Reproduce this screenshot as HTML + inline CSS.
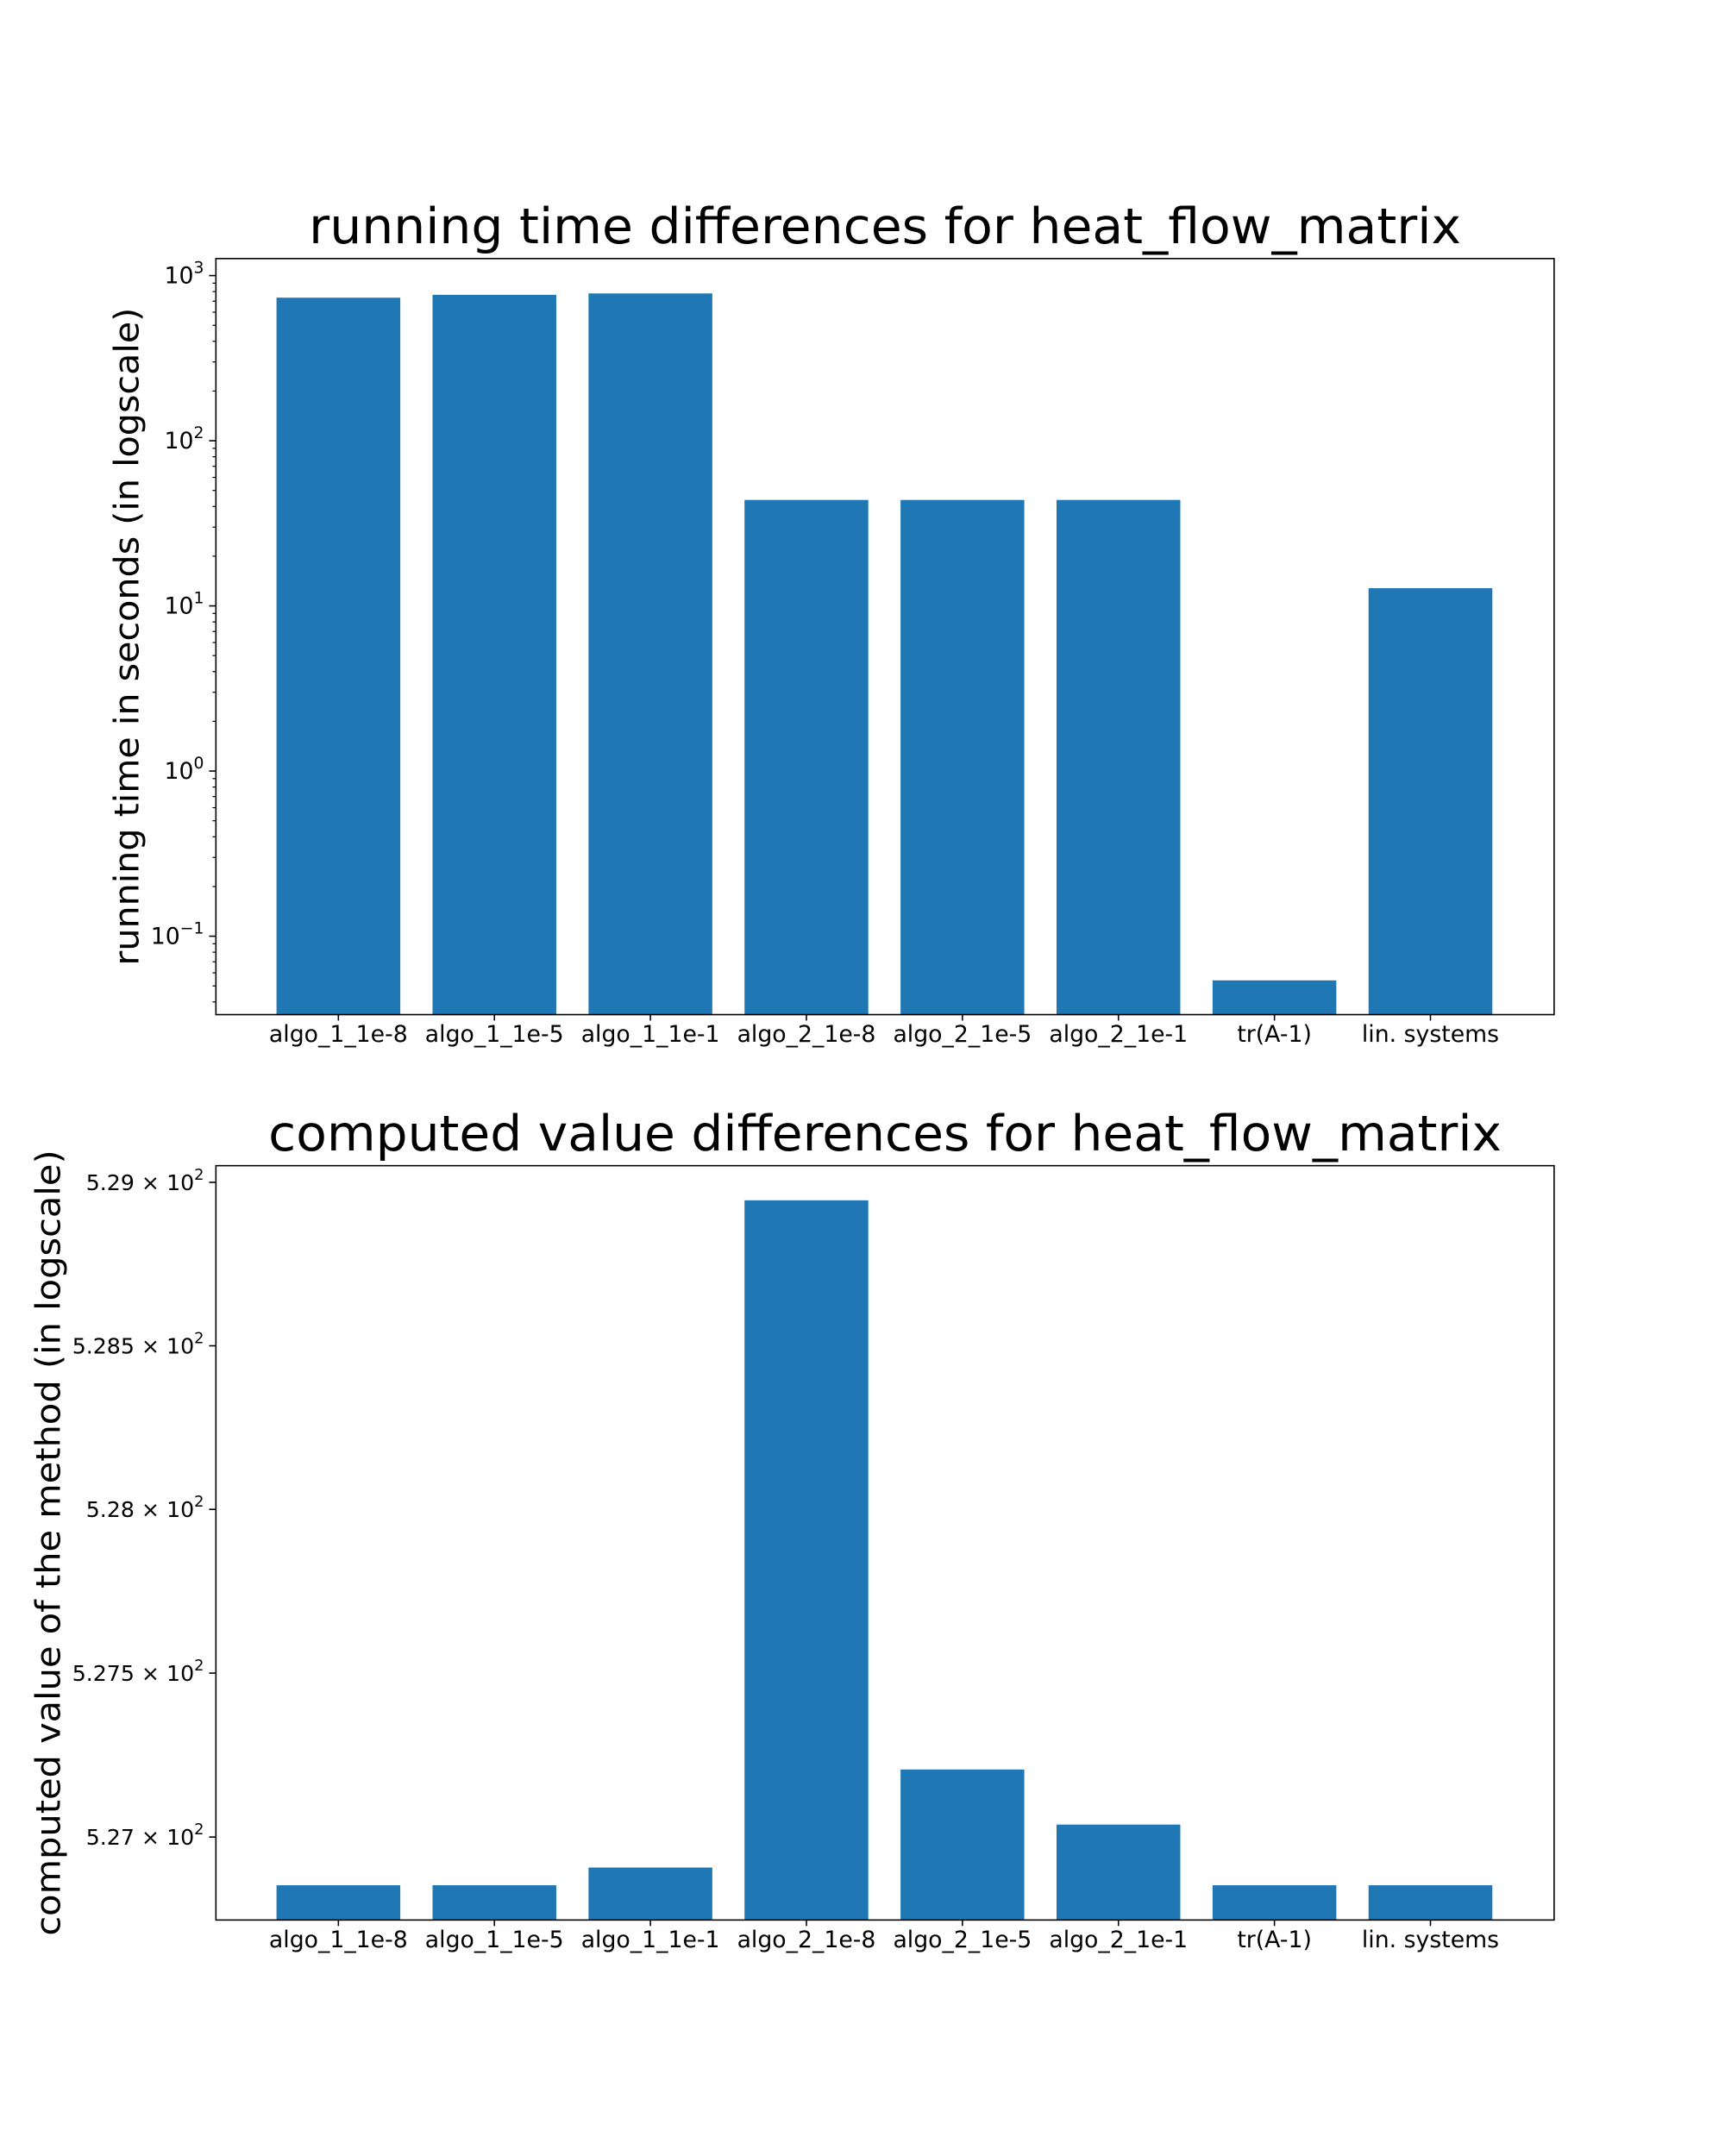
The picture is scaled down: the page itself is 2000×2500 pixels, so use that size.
<!DOCTYPE html>
<html><head><meta charset="utf-8"><style>
html,body{margin:0;padding:0;background:#fff;}
svg{display:block;font-family:"DejaVu Sans","Liberation Sans",sans-serif;}
</style></head><body>
<svg id="chart" width="2000" height="2500" viewBox="0 0 2000 2500"><g id="root" transform="scale(0.9895)"></g></svg>
<script>
const categories = ["algo_1_1e-8","algo_1_1e-5","algo_1_1e-1","algo_2_1e-8","algo_2_1e-5","algo_2_1e-1","tr(A-1)","lin. systems"];
const runningTimes = [735, 765, 780, 43.8, 43.8, 43.8, 0.054, 12.8];
const computedValues = [526.853, 526.853, 526.907, 528.945, 527.206, 527.038, 526.853, 526.853];
const topTickValues = [0.1, 1, 10, 100, 1000];
const topTickExps = ["\u22121", "0", "1", "2", "3"];
const bottomTickValues = [527, 527.5, 528, 528.5, 529];
const bottomTickLabels = ["5.27", "5.275", "5.28", "5.285", "5.29"];

const NS = "http://www.w3.org/2000/svg";
const svg = document.getElementById("root");
function mk(tag, attrs, parent) {
  const e = document.createElementNS(NS, tag);
  for (const k in attrs) e.setAttribute(k, attrs[k]);
  (parent || svg).appendChild(e);
  return e;
}
const L = 253, R = 1821, SP = 182.8, BW = 145, OFF = 0.785;
function xc(i) { return L + (i + OFF) * SP; }

function logScale(lo, hi, top, bottom) {
  const a = Math.log10(lo), b = Math.log10(hi);
  return v => bottom - (Math.log10(v) - a) / (b - a) * (bottom - top);
}

function panel(cfg) {
  const g = mk("g", {});
  
  
  const y = logScale(cfg.ylo, cfg.yhi, cfg.T, cfg.B);
  cfg.values.forEach((v, i) => {
    const top = y(v);
    const r = mk("rect", {x: xc(i) - BW / 2, y: top, width: BW, height: cfg.B - top, fill: "#1f77b4"}, g);
    
    
  });
  const f = mk("rect", {x: L, y: cfg.T, width: R - L, height: cfg.B - cfg.T, fill: "none", stroke: "#000", "stroke-width": 1.6}, g);
  
  
  categories.forEach((c, i) => {
    const x = xc(i);
    mk("line", {x1: x, x2: x, y1: cfg.B, y2: cfg.B + 7, stroke: "#000", "stroke-width": 1.6}, g);
    const t = mk("text", {x: x, y: cfg.B + 32, "font-size": 27, "text-anchor": "middle", fill: "#000"}, g);
    t.textContent = c;
    
    
  });
  cfg.ticks(g, y);
  const tt = mk("text", {x: (L + R) / 2, y: cfg.T - 18, "font-size": 58, "text-anchor": "middle", fill: "#000", textLength: cfg.titleLen, lengthAdjust: "spacingAndGlyphs"}, g);
  tt.textContent = cfg.title;
  
  
  const cy = (cfg.T + cfg.B) / 2 + cfg.ylabShift;
  const yl = mk("text", {x: 0, y: 0, "font-size": 40, "text-anchor": "middle", fill: "#000", transform: `translate(${cfg.ylabX},${cy}) rotate(-90)`, textLength: cfg.ylabLen, lengthAdjust: "spacingAndGlyphs"}, g);
  yl.textContent = cfg.ylab;
  
  
}

panel({
  name: "running-time-chart", T: 303, B: 1189, ylo: 0.0335, yhi: 1268,
  values: runningTimes, title: "running time differences for heat_flow_matrix", titleLen: 1350,
  ylab: "running time in seconds (in logscale)", ylabX: 162, ylabShift: 0, ylabLen: 771,
  ticks: (g, y) => {
    for (let e = -2; e <= 3; e++) for (let m = 2; m <= 9; m++) {
      const v = m * Math.pow(10, e);
      if (v < 0.0335 || v > 1268) continue;
      const p = y(v);
      mk("line", {x1: L - 4, x2: L, y1: p, y2: p, stroke: "#000", "stroke-width": 1.2}, g);
    }
    topTickValues.forEach((v, i) => {
      const p = y(v);
      mk("line", {x1: L - 8, x2: L, y1: p, y2: p, stroke: "#000", "stroke-width": 1.6}, g);
      const t = mk("text", {x: L - 14, y: p + 9, "font-size": 27, "text-anchor": "end", fill: "#000"}, g);
      
      
      const b = mk("tspan", {}, t); b.textContent = "10";
      const s = mk("tspan", {dy: -12, "font-size": 19}, t); s.textContent = topTickExps[i];
    });
  }
});

panel({
  name: "computed-value-chart", T: 1366, B: 2250, ylo: 526.747, yhi: 529.051,
  values: computedValues, title: "computed value differences for heat_flow_matrix", titleLen: 1445,
  ylab: "computed value of the method (in logscale)", ylabX: 70, ylabShift: 0, ylabLen: 921,
  ticks: (g, y) => {
    bottomTickValues.forEach((v, i) => {
      const p = y(v);
      mk("line", {x1: L - 8, x2: L, y1: p, y2: p, stroke: "#000", "stroke-width": 1.6}, g);
      const t = mk("text", {x: L - 14, y: p + 9, "font-size": 25.5, "text-anchor": "end", fill: "#000"}, g);
      
      
      const b = mk("tspan", {}, t); b.textContent = bottomTickLabels[i] + " \u00d7 10";
      const s = mk("tspan", {dy: -12, "font-size": 18}, t); s.textContent = "2";
    });
  }
});
</script>
</body></html>
